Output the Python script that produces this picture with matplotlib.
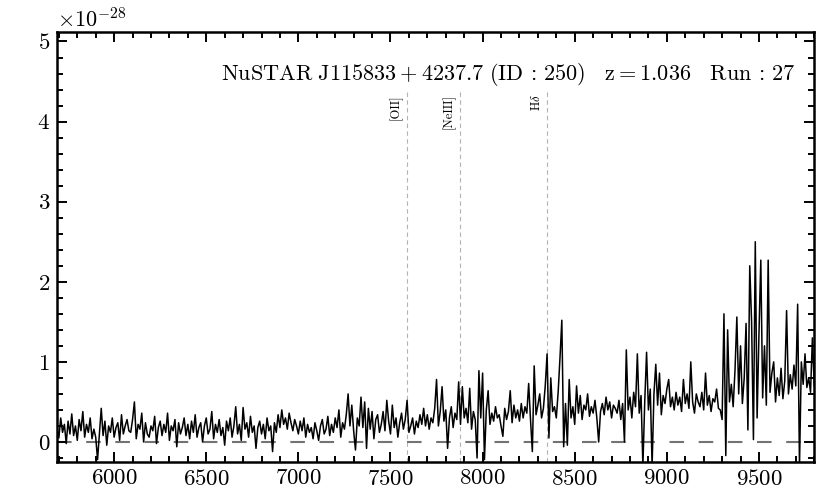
import numpy as np
import matplotlib
matplotlib.use("Agg")
import matplotlib.pyplot as plt
from matplotlib.ticker import MultipleLocator

plt.rcParams['font.family'] = 'serif'
plt.rcParams['font.serif'] = ['cmr10', 'DejaVu Serif']
plt.rcParams['mathtext.fontset'] = 'cm'
plt.rcParams['axes.formatter.use_mathtext'] = True
plt.rcParams['axes.unicode_minus'] = False

# spectrum, flux in units of 1e-28, one value every 10 A starting at 5690 A
wave_start = 5690
wave_step = 10
flux = [
    0.18, 0.05, 0.30, 0.12, 0.22, -0.02, 0.26, 0.10, 0.35, 0.08,   # 5690
    0.20, 0.02, 0.28, 0.14, 0.38, 0.06, 0.22, 0.12, 0.30, 0.04,    # 5790
    0.16, 0.06, -0.22, 0.10, 0.42, 0.08, 0.26, -0.04, 0.20, 0.12,  # 5890
    0.30, 0.06, 0.18, 0.24, 0.02, 0.34, 0.10, 0.20, 0.28, 0.14,    # 5990
    0.12, 0.28, 0.50, 0.04, 0.22, 0.16, 0.36, 0.00, 0.24, 0.10,    # 6090
    0.06, 0.20, 0.14, 0.32, -0.02, 0.18, 0.26, 0.08, 0.22, 0.12,   # 6190
    0.36, 0.02, 0.20, 0.14, 0.28, -0.06, 0.24, 0.10, 0.18, 0.30,   # 6290
    0.08, 0.22, 0.04, 0.26, 0.12, 0.34, 0.06, 0.18, 0.24, 0.00,    # 6390
    0.20, 0.30, 0.10, 0.16, 0.38, 0.04, 0.22, 0.12, 0.28, 0.08,    # 6490
    0.18, -0.04, 0.26, 0.14, 0.30, 0.06, 0.20, 0.44, 0.10, 0.22,   # 6590
    0.02, 0.43, 0.16, 0.24, 0.06, 0.32, 0.12, 0.20, -0.08, 0.18,   # 6690
    0.26, 0.10, 0.22, 0.04, 0.30, 0.14, 0.20, -0.12, 0.24, 0.12,   # 6790
    0.34, 0.18, 0.40, 0.22, 0.30, 0.16, 0.36, 0.24, 0.14, 0.28,    # 6890
    0.20, 0.10, 0.26, 0.14, 0.30, 0.06, 0.22, 0.12, 0.18, 0.04,    # 6990
    0.24, 0.14, 0.02, 0.20, 0.28, 0.10, 0.16, 0.32, 0.08, 0.22,    # 7090
    0.12, 0.30, 0.18, 0.40, 0.06, 0.24, 0.16, 0.34, 0.60, 0.20,    # 7190
    0.46, 0.14, -0.10, 0.30, 0.20, 0.56, 0.18, 0.50, -0.08, 0.42,  # 7290
    0.16, 0.38, 0.04, 0.28, 0.34, 0.12, 0.22, 0.38, 0.14, 0.52,    # 7390
    0.26, 0.10, 0.46, 0.18, 0.30, 0.06, 0.24, 0.36, 0.16, 0.28,    # 7490
    0.52, 0.12, 0.20, 0.30, 0.10, 0.26, 0.18, 0.34, 0.22, 0.42,    # 7590
    0.20, 0.34, 0.16, 0.30, 0.24, 0.42, 0.78, 0.20, 0.38, 0.69,    # 7690
    0.26, 0.40, -0.08, 0.30, 0.44, 0.18, 0.36, 0.28, 0.75, 0.22,   # 7790
    0.69, 0.30, 0.42, 0.24, 0.67, 0.16, 0.38, 0.28, -0.20, 0.89,   # 7890
    0.30, 0.86, -0.22, 0.40, 0.64, 0.22, 0.36, 0.26, 0.44, 0.30,   # 7990
    0.34, 0.20, 0.07, 0.42, 0.28, 0.38, 0.64, 0.24, 0.46, 0.30,    # 8090
    0.40, 0.26, 0.48, 0.30, 0.44, 0.36, 0.73, 0.28, -0.12, 0.95,   # 8190
    0.34, 0.46, 0.60, 0.30, 0.42, 0.70, 1.10, 0.05, 0.80, 0.38,    # 8290
    0.44, 0.30, 0.62, 1.05, 1.52, -0.06, 0.48, -0.04, 0.78, 0.30,  # 8390
    0.44, 0.22, 0.70, 0.36, 0.58, 0.28, 0.46, 0.40, 0.60, 0.32,    # 8490
    0.44, 0.36, 0.52, 0.30, 0.00, 0.38, 0.48, 0.34, 0.56, 0.40,    # 8590
    0.50, 0.30, 0.46, 0.42, 0.36, 0.52, 0.28, 0.48, 0.00, 1.15,    # 8690
    0.40, 0.56, 0.30, 0.62, 0.44, 1.10, 0.36, 0.58, -0.30, 0.50,   # 8790
    1.12, 0.40, 0.66, -0.30, 0.60, 0.97, 0.46, 0.86, 0.34, 0.58,   # 8890
    0.48, 0.66, 0.78, 0.44, 0.56, 0.40, 0.62, 0.46, 0.56, 0.38,    # 8990
    0.78, 0.48, 0.60, 0.42, 1.00, 0.50, 0.36, 0.60, 0.50, 0.44,    # 9090
    0.62, 0.40, 0.86, 0.46, 0.58, 0.38, 0.54, 0.50, 0.66, 0.42,    # 9190
    0.40, 0.28, 1.60, -0.17, 1.40, 0.50, 0.72, 0.44, 0.90, 1.56,   # 9290
    0.60, 1.20, 0.48, 0.80, 1.48, 0.15, 2.20, 1.50, 0.03, 2.50,    # 9390
    0.30, 1.35, 2.27, 0.55, 1.20, 0.46, 2.27, 0.62, 0.86, 1.00,    # 9490
    0.50, 0.80, 0.58, 0.92, 0.54, 0.76, 1.64, 0.60, 0.84, 0.66,    # 9590
    0.96, 0.70, 1.72, -0.30, 1.00, 0.72, 1.10, 0.68, 0.80, 0.62,   # 9690
    1.30, 0.70,                                                    # 9790
]

line_names = ['[OII]', '[NeIII]', r'H$\delta$']
line_rest = [3727.0, 3869.0, 4102.0]
redshift = 1.036
title = (r'$\mathrm{NuSTAR\ J115833+4237.7\ (ID\,:\,250)'
         r'\quad z=1.036\quad Run\,:\,27}$')

wave = wave_start + wave_step * np.arange(len(flux))
flux = np.array(flux) * 1e-28

fig = plt.figure(figsize=(8.3, 4.98), dpi=100)
ax = fig.add_axes([0.0687, 0.0723, 0.9123, 0.8637])

ax.axhline(0, color='0.45', lw=1.5, ls=(0, (7, 7)), zorder=1)
ax.plot(wave, flux, color='k', lw=1.1, zorder=2)

for name, rest in zip(line_names, line_rest):
    obs = rest * (1 + redshift)
    ax.axvline(obs, ymin=0, ymax=0.865, color='0.7', lw=0.8, ls=(0, (4, 3)), zorder=0)
    ax.text(obs - 25, 4.34e-28, name, rotation=90, ha='right', va='top', fontsize=9)

ax.text(0.975, 0.9, title, transform=ax.transAxes, ha='right', va='center', fontsize=16)

ax.set_xlim(5690, 9800)
ax.set_ylim(-0.25e-28, 5.12e-28)
ax.xaxis.set_major_locator(MultipleLocator(500))
ax.xaxis.set_minor_locator(MultipleLocator(100))
ax.yaxis.set_major_locator(MultipleLocator(1e-28))
ax.yaxis.set_minor_locator(MultipleLocator(0.2e-28))
ax.tick_params(which='both', direction='in', top=True, right=True, labelsize=16.5)
ax.tick_params(which='major', length=7, width=1.4, pad=5)
ax.tick_params(which='minor', length=4, width=1.4)
for sp in ax.spines.values():
    sp.set_linewidth(1.8)
ax.yaxis.get_offset_text().set_fontsize(16)

fig.savefig('out.png', dpi=100)
